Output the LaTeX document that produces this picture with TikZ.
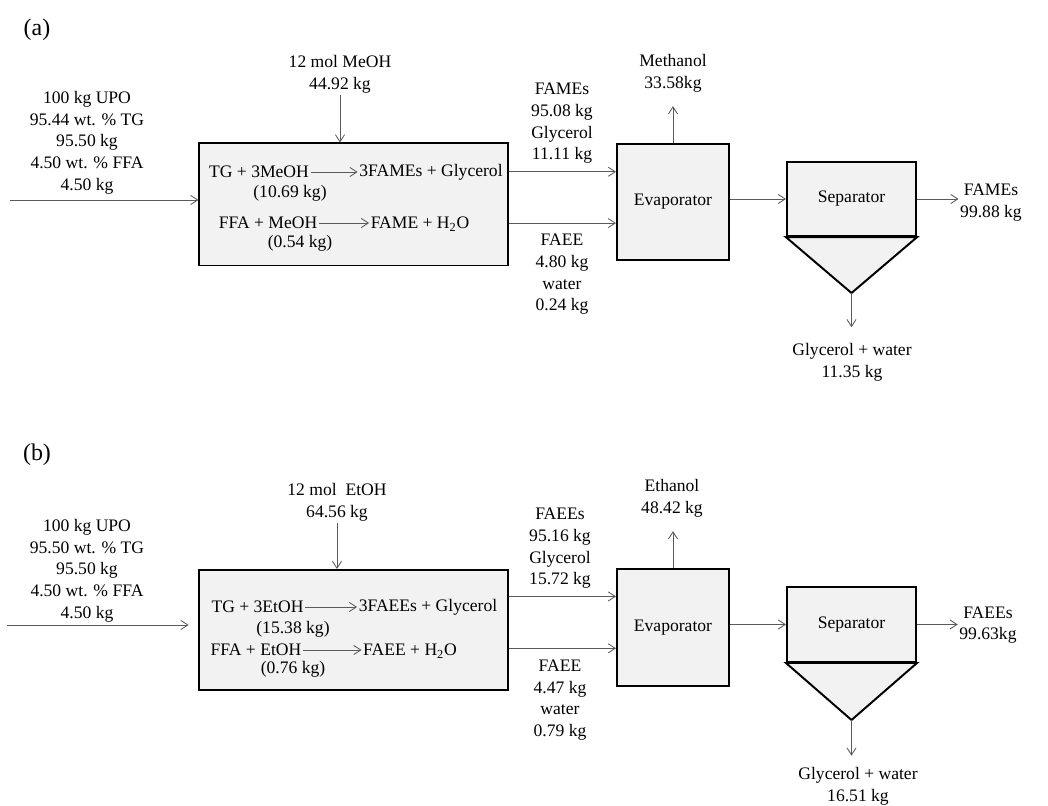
\documentclass[tikz,border=0pt]{standalone}
\usepackage{fontspec}
\setmainfont{Liberation Serif}
\usetikzlibrary{arrows.meta,calc}
\definecolor{flowgray}{RGB}{90,90,90}
\definecolor{unitfill}{RGB}{242,242,242}

\begin{document}
\begin{tikzpicture}[
  x=0.025cm, y=-0.025cm,
  reactor/.style={rectangle, draw=black, line width=1.4pt, fill=unitfill,
              minimum width=7.7cm, minimum height=3.05cm},
  unit/.style={rectangle, draw=black, line width=1.4pt, fill=unitfill, font=\fontsize{12.5}{15}\selectfont},
  vessel/.style={draw=black, line width=1.4pt, fill=unitfill, line join=miter},
  flow/.style={-{Straight Barb[length=5pt,width=6.5pt]}, draw=flowgray, line width=0.6pt},
  txt/.style={align=center, inner sep=1pt, font=\fontsize{12.5}{15.4}\selectfont},
  panel/.style={font=\fontsize{17}{20}\selectfont, inner sep=0pt}
]
\useasboundingbox (0,0) rectangle (1048,806);

% ---------- (a) methanol ----------
\node[panel] (lbla) at (37,30) {(a)};
\node[txt] (feeda) at (87,142.5) {100 kg UPO\\95.44 wt. \% TG\\95.50 kg\\4.50 wt. \% FFA\\4.50 kg};
\node[txt] (meoha) at (340,74) {12 mol MeOH\\44.92 kg};

% Reactor
\node[reactor] (ra) at (353.5,204.5) {};
\node[txt] (ra1) at (259,172) {TG + 3MeOH};
\node[txt] (pa1) at (431,172) {3FAMEs + Glycerol};
\node[txt] (ka1) at (290,193) {(10.69 kg)};
\node[txt] (ra2) at (268,223) {FFA + MeOH};
\node[txt] (pa2) at (420,224) {FAME + H\textsubscript{2}O};
\node[txt] (ka2) at (300,243) {(0.54 kg)};
\draw[flow] (ra1.east) -- (ra1.east -| pa1.west);
\draw[flow] (ra2.east) -- (ra2.east -| pa2.west);

% Units
\node[unit, minimum width=2.8cm, minimum height=2.9cm] (ea) at (673,202) {Evaporator};
\node[unit, minimum width=3.225cm, minimum height=1.86cm] (sa) at (851.5,199) {Separator};
\coordinate (apa) at (851.5,293);
\draw[vessel] (sa.south west) -- (sa.south east) -- (apa) -- cycle;

% Stream labels
\node[txt] (pra) at (562,123.5) {FAMEs\\95.08 kg\\Glycerol\\11.11 kg};
\node[txt] (bya) at (562,274.5) {FAEE\\4.80 kg\\water\\0.24 kg};
\node[txt] (mea) at (673,73) {Methanol\\33.58kg};
\node[txt] (gwa) at (852,362.5) {Glycerol + water\\11.35 kg};
\node[txt] (fma) at (991,202.5) {FAMEs\\99.88 kg};

% Streams
\coordinate (ina) at (10,200);
\path ($(ra.north east)!0.236!(ra.south east)$) coordinate (sa1)
      ($(ra.north east)!0.65!(ra.south east)$) coordinate (sa2);
\draw[flow] (ina) -- (ina -| ra.west);
\draw[flow] (meoha.south) -- (meoha.south |- ra.north);
\draw[flow] (sa1) -- (sa1 -| ea.west);
\draw[flow] (sa2) -- (sa2 -| ea.west);
\draw[flow, shorten >=9pt] (ea.north) -- (ea.north |- mea.south);
\draw[flow] (sa.west -| ea.east) -- (sa.west);
\draw[flow, shorten >=10.5pt] (apa) -- (apa |- gwa.north);
\draw[flow] (sa.east) -- (sa.east -| fma.west);

% ---------- (b) ethanol ----------
\node[panel] (lblb) at (37,455) {(b)};
\node[txt] (feedb) at (87,570.5) {100 kg UPO\\95.50 wt. \% TG\\95.50 kg\\4.50 wt. \% FFA\\4.50 kg};
\node[txt] (etohb) at (337,502) {12 mol~~EtOH\\64.56 kg};

% Reactor
\node[reactor, minimum height=3.0cm] (rb) at (353.5,630) {};
\node[txt] (rb1) at (257.5,607) {TG + 3EtOH};
\node[txt] (pb1) at (428,607) {3FAEEs + Glycerol};
\node[txt] (kb1) at (293,629) {(15.38 kg)};
\node[txt] (rb2) at (256,650) {FFA + EtOH};
\node[txt] (pb2) at (410,651) {FAEE + H\textsubscript{2}O};
\node[txt] (kb2) at (293,669) {(0.76 kg)};
\draw[flow] (rb1.east) -- (rb1.east -| pb1.west);
\draw[flow] (rb2.east) -- (rb2.east -| pb2.west);

% Units
\node[unit, minimum width=2.8cm, minimum height=2.925cm] (eb) at (673,627.5) {Evaporator};
\node[unit, minimum width=3.225cm, minimum height=1.875cm] (sb) at (851.5,624.5) {Separator};
\coordinate (apb) at (851.5,720);
\draw[vessel] (sb.south west) -- (sb.south east) -- (apb) -- cycle;

% Stream labels
\node[txt] (prb) at (560,548.5) {FAEEs\\95.16 kg\\Glycerol\\15.72 kg};
\node[txt] (byb) at (560,700) {FAEE\\4.47 kg\\water\\0.79 kg};
\node[txt] (meb) at (672,498) {Ethanol\\48.42 kg};
\node[txt] (gwb) at (858,786) {Glycerol + water\\16.51 kg};
\node[txt] (fmb) at (988,625) {FAEEs\\99.63kg};

% Streams
\coordinate (inb) at (7,625);
\path ($(rb.north east)!0.225!(rb.south east)$) coordinate (sb1)
      ($(rb.north east)!0.65!(rb.south east)$) coordinate (sb2);
\draw[flow, shorten >=7pt] (inb) -- (inb -| rb.west);
\draw[flow] (etohb.south) -- (etohb.south |- rb.north);
\draw[flow] (sb1) -- (sb1 -| eb.west);
\draw[flow] (sb2) -- (sb2 -| eb.west);
\draw[flow, shorten >=9pt] (eb.north) -- (eb.north |- meb.south);
\draw[flow] (sb.west -| eb.east) -- (sb.west);
\draw[flow, shorten >=7pt] (apb) -- (apb |- gwb.north);
\draw[flow] (sb.east) -- (sb.east -| fmb.west);
\end{tikzpicture}
\end{document}
